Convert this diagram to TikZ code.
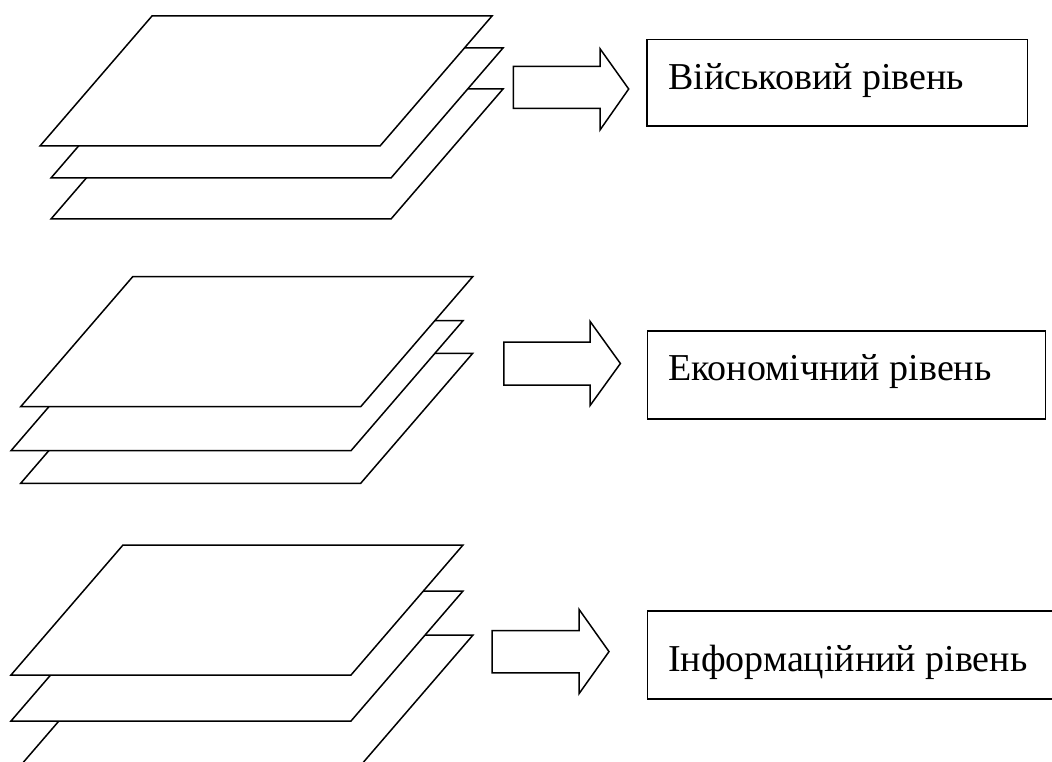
\documentclass[tikz,border=0pt]{standalone}
\usepackage{fontspec}
\setmainfont{Liberation Serif}
\tikzset{
  platepic/.pic={\draw[fill=white, line width=1.5pt] (0,0) -- (340,0) -- (452,-130) -- (112,-130) -- cycle;},
  levelbox/.style={draw, line width=1.5pt, fill=white, inner sep=0pt, anchor=north west},
  lbl/.style={anchor=base west, inner sep=0pt, font=\fontsize{38pt}{44pt}\selectfont},
  fatarrow/.style={draw, fill=white, line width=1.5pt}
}
\begin{document}
\begin{tikzpicture}[x=1pt,y=-1pt]
\useasboundingbox (0,0) rectangle (1052,762);
\clip (0,0) rectangle (1052,762);
% ---- top stack
\pic at (51,219) {platepic};
\pic at (51,178) {platepic};
\pic at (40,146) {platepic};
% ---- middle stack
\pic at (20.7,483.3) {platepic};
\pic at (11,450.7) {platepic};
\pic at (20.7,406.7) {platepic};
% ---- bottom stack
\pic at (21,765) {platepic};
\pic at (11,721) {platepic};
\pic at (11,675) {platepic};
% ---- arrows
\draw[fatarrow] (513.4,66.5) -- (600,66.5) -- (600,48.7) -- (628.7,89) -- (600,130) -- (600,108.5) -- (513.4,108.5) -- cycle;
\draw[fatarrow] (503.8,342.2) -- (590,342.2) -- (590,321.3) -- (620.4,363.5) -- (590,405.6) -- (590,385) -- (503.8,385) -- cycle;
\draw[fatarrow] (492.1,630.6) -- (579,630.6) -- (579,609.3) -- (609,651.6) -- (579,693.7) -- (579,672.8) -- (492.1,672.8) -- cycle;
% ---- boxes
\node[levelbox, minimum width=380.7pt, minimum height=86.5pt] (b1) at (646,39) {};
\node[lbl] (t1) at (668,89.4) {Військовий рівень};
\node[levelbox, minimum width=397.9pt, minimum height=87.6pt] (b2) at (646.8,330.4) {};
\node[lbl] (t2) at (668,380) {Економічний рівень};
\node[levelbox, minimum width=430pt, minimum height=87.6pt] (b3) at (646.8,610.4) {};
\node[lbl] (t3) at (668,671) {Інформаційний рівень};
\end{tikzpicture}
\end{document}
